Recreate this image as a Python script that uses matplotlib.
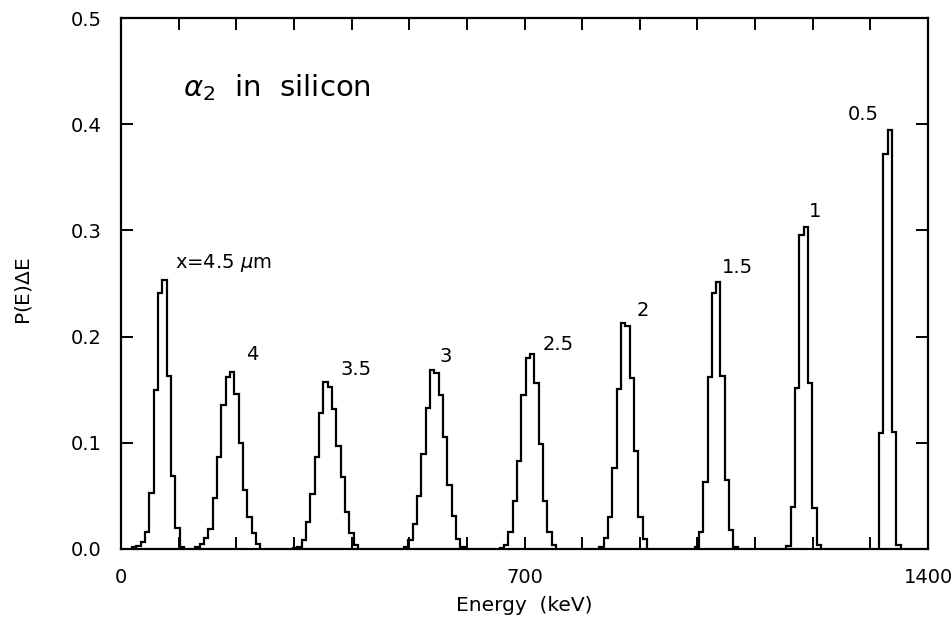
import numpy as np
import matplotlib.pyplot as plt
from matplotlib.ticker import MultipleLocator

# energy spectra of alpha_2 after silicon layers of various thickness
thickness = ['x=4.5 $\\mu$m', '4', '3.5', '3', '2.5', '2', '1.5', '1', '0.5']
bin_width = 7.5  # keV
peak_start = [19, 129, 298.5, 491, 657, 830, 995, 1154.5, 1315]

h45 = [0.002, 0.003, 0.007, 0.016, 0.053, 0.150, 0.241, 0.253, 0.163, 0.069, 0.020, 0.002]
h4 = [0.002, 0.005, 0.010, 0.019, 0.048, 0.087, 0.136, 0.162, 0.167, 0.146, 0.100, 0.056,
      0.030, 0.015, 0.005]
h35 = [0.001, 0.002, 0.0085, 0.025, 0.052, 0.087, 0.128, 0.157, 0.153, 0.132, 0.097, 0.068,
       0.035, 0.015, 0.004]
h3 = [0.002, 0.008, 0.024, 0.050, 0.089, 0.133, 0.169, 0.166, 0.145, 0.105, 0.060, 0.031,
      0.009, 0.002]
h25 = [0.001, 0.004, 0.016, 0.045, 0.083, 0.145, 0.180, 0.184, 0.156, 0.099, 0.045, 0.016, 0.004]
h2 = [0.002, 0.010, 0.030, 0.076, 0.151, 0.213, 0.210, 0.161, 0.092, 0.030, 0.009]
h15 = [0.002, 0.016, 0.063, 0.162, 0.241, 0.251, 0.163, 0.065, 0.018, 0.002]
h1 = [0.003, 0.040, 0.152, 0.296, 0.303, 0.156, 0.039, 0.004]
h05 = [0.109, 0.372, 0.395, 0.110, 0.004]
heights = [h45, h4, h35, h3, h25, h2, h15, h1, h05]

# centres of the thickness labels (keV, P)
label_x = [177, 227, 407, 564, 758, 905, 1069, 1204, 1287]
label_y = [0.269, 0.183, 0.169, 0.181, 0.193, 0.225, 0.265, 0.318, 0.409]

fig = plt.figure(figsize=(9.52, 6.23), dpi=100)
ax = fig.add_axes([0.1271, 0.1188, 0.8477, 0.8523])

for start, h in zip(peak_start, heights):
    edges = start + bin_width * np.arange(len(h) + 1)
    ax.stairs(h, edges, baseline=0, color='black', lw=1.6)

for txt, lx, ly in zip(thickness, label_x, label_y):
    ax.text(lx, ly, txt, fontsize=14, ha='center', va='center')

ax.text(107, 0.434, '$\\alpha_2$  in  silicon', fontsize=21, ha='left', va='center')

ax.set_xlim(0, 1400)
ax.set_ylim(0, 0.5)
ax.set_xticks([0, 700, 1400])
ax.xaxis.set_minor_locator(MultipleLocator(100))
ax.yaxis.set_major_locator(MultipleLocator(0.1))
ax.yaxis.set_major_formatter(plt.FormatStrFormatter('%.1f'))
ax.tick_params(which='both', direction='in', top=True, right=True,
               length=8.6, width=1.4, pad=14, labelsize=14)
for s in ax.spines.values():
    s.set_linewidth(1.6)

ax.set_xlabel('Energy  (keV)', fontsize=14.5)
ax.set_ylabel('P(E)$\\Delta$E', fontsize=14.5)
ax.xaxis.label.set_va('center')
ax.yaxis.label.set_va('center')
ax.xaxis.set_label_coords(0.5, -0.107)
ax.yaxis.set_label_coords(-0.121, 0.485)

fig.savefig('out.png', dpi=100)
